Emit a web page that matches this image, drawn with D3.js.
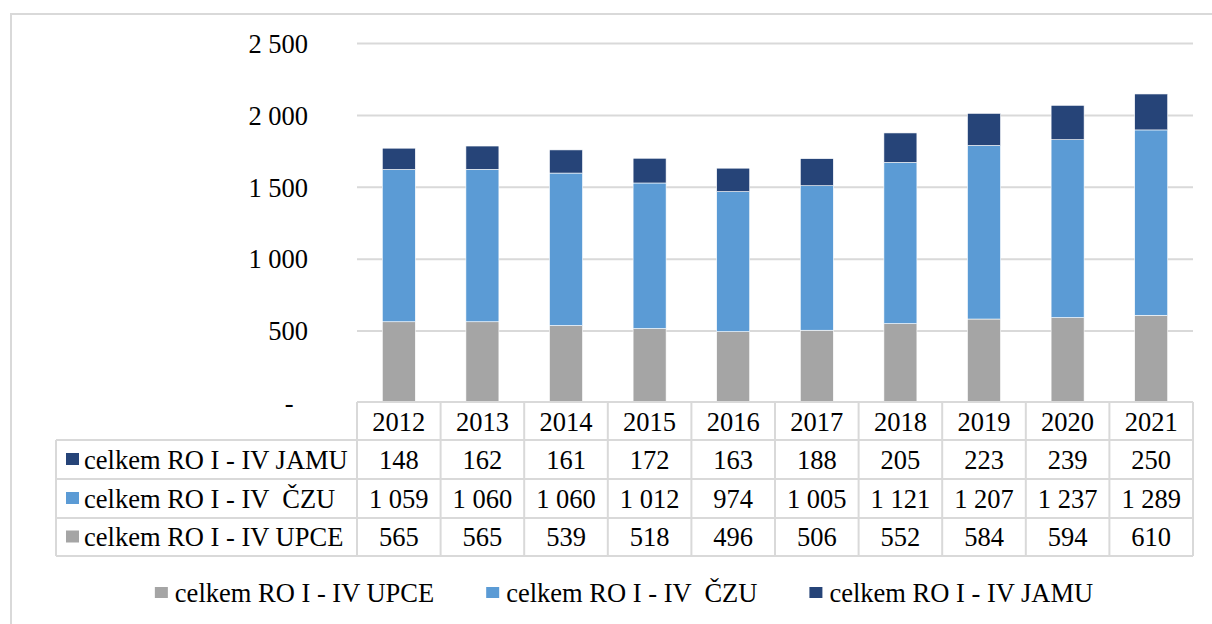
<!DOCTYPE html>
<html><head><meta charset="utf-8">
<script src="https://cdn.jsdelivr.net/npm/d3@7"></script>
</head><body style="margin:0"><svg id="c" width="1212" height="624" style="display:block"></svg>
<script>
const years = ["2012","2013","2014","2015","2016","2017","2018","2019","2020","2021"];
const upce = [565,565,539,518,496,506,552,584,594,610];
const czu  = [1059,1060,1060,1012,974,1005,1121,1207,1237,1289];
const jamu = [148,162,161,172,163,188,205,223,239,250];
const seriesNames = ["celkem RO I - IV UPCE","celkem RO I - IV \u00A0ČZU","celkem RO I - IV JAMU"];
const colors = ["#a5a5a5","#5b9bd5","#264478"];
const yTicks = [0,500,1000,1500,2000,2500];

const svg = d3.select("#c");
const fs = 26.5;
const grid = "#d9d9d9";
const FONT = '"Liberation Serif", "Times New Roman", Tinos, serif';
function txt(sel){ return sel.style("font-family",FONT).attr("fill","#000").attr("font-size",fs); }

svg.append("path").attr("d","M11,624V14H1212").attr("fill","none").attr("stroke",grid).attr("stroke-width",2);

const x0 = 357, x1 = 1193;
const x = d3.scaleBand().domain(years).range([x0,x1]).paddingInner(0).paddingOuter(0);
const y = d3.scaleLinear().domain([0,2500]).range([403,43.5]);

svg.append("g").selectAll("line").data(yTicks.filter(d=>d>0)).join("line")
  .attr("x1",x0).attr("x2",x1).attr("y1",d=>y(d)).attr("y2",d=>y(d))
  .attr("stroke",grid).attr("stroke-width",2);

const fmt = d => d===0 ? "-" : d3.format(",")(d).replace(/,/g," ");
txt(svg.append("g").selectAll("text").data(yTicks).join("text")
  .attr("x",d=>d===0?293.5:308).attr("y",d=>y(d)).attr("dy","0.35em")
  .attr("text-anchor","end").text(fmt));

const rows = years.map((yr,i)=>({year:yr, upce:upce[i], czu:czu[i], jamu:jamu[i]}));
const stack = d3.stack().keys(["upce","czu","jamu"])(rows);
const bw = 33;
svg.append("g").selectAll("g").data(stack).join("g").attr("fill",(d,i)=>colors[i])
  .selectAll("rect").data(d=>d).join("rect")
  .attr("x",d=>x(d.data.year)+x.bandwidth()/2-bw/2).attr("width",bw)
  .attr("y",d=>y(d[1])).attr("height",d=>y(d[0])-y(d[1]))
  .attr("stroke","#fff").attr("stroke-width",0.6);

const rowTop = [402,440,479,518,556];
const labelX0 = 56;
const t = svg.append("g").attr("stroke",grid).attr("stroke-width",2).attr("fill","none");
t.append("line").attr("x1",x0).attr("x2",x1).attr("y1",rowTop[0]).attr("y2",rowTop[0]);
for (let r=1;r<rowTop.length;r++) t.append("line").attr("x1",labelX0).attr("x2",x1).attr("y1",rowTop[r]).attr("y2",rowTop[r]);
t.append("line").attr("x1",labelX0).attr("x2",labelX0).attr("y1",rowTop[1]).attr("y2",rowTop[4]);
years.forEach(yr=>t.append("line").attr("x1",x(yr)).attr("x2",x(yr)).attr("y1",rowTop[0]).attr("y2",rowTop[4]));
t.append("line").attr("x1",x1).attr("x2",x1).attr("y1",rowTop[0]).attr("y2",rowTop[4]);

const numFmt = d => d3.format(",")(d).replace(/,/g," ");
txt(svg.append("g").selectAll("text").data(years).join("text")
  .attr("x",d=>x(d)+x.bandwidth()/2).attr("y",(rowTop[0]+rowTop[1])/2).attr("dy","0.36em")
  .attr("text-anchor","middle").text(d=>d));

const tableRows = [
  {name:seriesNames[2], vals:jamu, color:colors[2]},
  {name:seriesNames[1], vals:czu, color:colors[1]},
  {name:seriesNames[0], vals:upce, color:colors[0]}
];
tableRows.forEach((r,ri)=>{
  const cy = (rowTop[ri+1]+rowTop[ri+2])/2;
  svg.append("rect").attr("x",66).attr("y",cy-6.5).attr("width",13).attr("height",12).attr("fill",r.color);
  txt(svg.append("text").attr("x",84).attr("y",cy).attr("dy","0.35em").text(r.name));
  txt(svg.append("g").selectAll("text").data(r.vals).join("text")
    .attr("x",(d,i)=>x(years[i])+x.bandwidth()/2).attr("y",cy).attr("dy","0.35em")
    .attr("text-anchor","middle").text(numFmt));
});

const lg = svg.append("g");
const ly = 593;
let lx = 0;
seriesNames.forEach((n,i)=>{
  const g = lg.append("g").attr("transform",`translate(${lx},0)`);
  g.append("rect").attr("x",0).attr("y",ly-6).attr("width",13).attr("height",11).attr("fill",colors[i]);
  const tx = txt(g.append("text").attr("x",20).attr("y",ly).attr("dy","0.35em").text(n));
  const w = tx.node().getComputedTextLength();
  lx += 20 + w + 52;
});
const total = lx - 52;
lg.attr("transform",`translate(${624 - total/2},0)`);
</script></body></html>
